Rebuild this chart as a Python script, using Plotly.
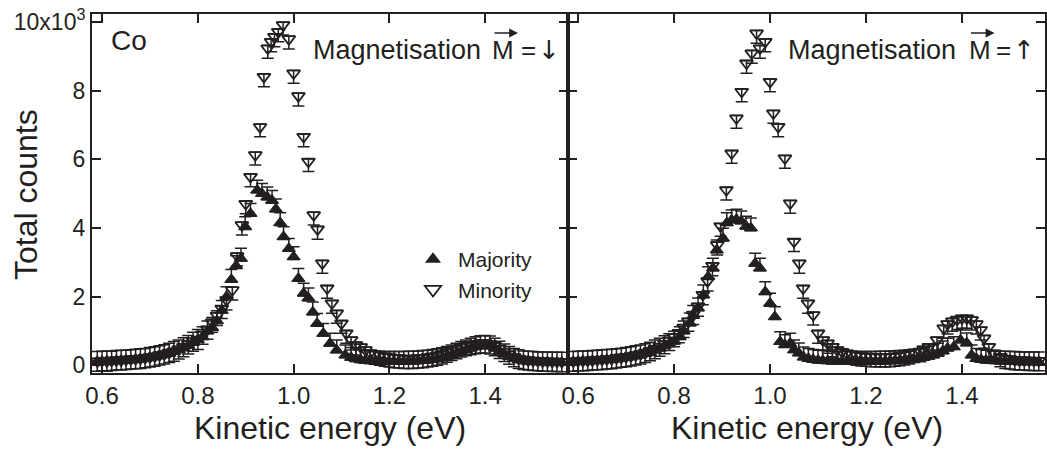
import plotly.graph_objects as go

INK = "#231f20"
FONT = "Liberation Sans, Arial, Helvetica, sans-serif"
W, H = 1047, 450

# ---------------- data ----------------
# Left panel: magnetisation down
L_maj_E = [0.59, 0.60, 0.61, 0.62, 0.63, 0.64, 0.65, 0.66, 0.67, 0.68, 0.69, 0.70, 0.71, 0.72, 0.73,
           0.74, 0.75, 0.76, 0.77, 0.78, 0.79, 0.80, 0.81, 0.82, 0.83, 0.84, 0.85, 0.86, 0.87, 0.88,
           0.89, 0.899, 0.91, 0.924, 0.934, 0.945, 0.955, 0.963, 0.972, 0.979, 0.99, 1.00, 1.01, 1.021,
           1.031, 1.04, 1.049, 1.062, 1.076, 1.09, 1.108, 1.12, 1.13, 1.14, 1.15, 1.16, 1.17, 1.18,
           1.19, 1.20, 1.21, 1.22, 1.23, 1.24, 1.25, 1.26, 1.27, 1.28, 1.29, 1.30, 1.31, 1.32, 1.33,
           1.34, 1.35, 1.36, 1.37, 1.38, 1.39, 1.40, 1.41, 1.42, 1.43, 1.44, 1.45, 1.46, 1.47, 1.48,
           1.49, 1.50, 1.51, 1.52, 1.53, 1.54, 1.55, 1.56]
L_maj_C = [110, 120, 130, 120, 140, 150, 150, 160, 180, 190, 200, 230, 250, 280, 310,
           350, 400, 450, 510, 580, 670, 750, 830, 1000, 1100, 1300, 1600, 2000, 2500, 2900,
           3115, 4035, 4420, 5100, 5000, 4900, 4800, 4550, 4150, 3745, 3400, 3160, 2530, 2100,
           1960, 1550, 1220, 930, 640, 445, 300, 230, 190, 160, 140, 130, 120, 120,
           110, 110, 110, 110, 110, 120, 120, 130, 140, 150, 170, 190, 220, 260, 300,
           350, 400, 450, 500, 540, 570, 580, 560, 500, 410, 330, 260, 200, 160, 130,
           120, 110, 100, 100, 100, 90, 90, 90]

L_min_E = [0.59, 0.60, 0.61, 0.62, 0.63, 0.64, 0.65, 0.66, 0.67, 0.68, 0.69, 0.70, 0.71, 0.72, 0.73,
           0.74, 0.75, 0.76, 0.77, 0.78, 0.79, 0.80, 0.81, 0.82, 0.83, 0.84, 0.85, 0.86, 0.872, 0.882,
           0.892, 0.90, 0.91, 0.92, 0.93, 0.938, 0.946, 0.953, 0.96, 0.968, 0.978, 0.99, 1.00, 1.01,
           1.021, 1.031, 1.042, 1.05, 1.06, 1.07, 1.08, 1.09, 1.10, 1.11, 1.12, 1.13, 1.14, 1.15,
           1.16, 1.17, 1.18, 1.19, 1.20, 1.21, 1.22, 1.23, 1.24, 1.25, 1.26, 1.27, 1.28, 1.29, 1.30,
           1.31, 1.32, 1.33, 1.34, 1.35, 1.36, 1.37, 1.38, 1.39, 1.40, 1.41, 1.42, 1.43, 1.44, 1.45,
           1.46, 1.47, 1.48, 1.49, 1.50, 1.51, 1.52, 1.53, 1.54, 1.55, 1.56]
L_min_C = [120, 130, 120, 140, 150, 150, 170, 180, 190, 200, 220, 240, 260, 300, 330,
           370, 410, 470, 540, 620, 700, 750, 900, 1050, 1250, 1450, 1650, 1900, 2190, 3180,
           4084, 4700, 5490, 6120, 6940, 8400, 9228, 9420, 9565, 9710, 9906, 9500, 8500, 7840,
           6655, 5930, 4375, 3960, 2970, 2240, 1805, 1514, 1220, 930, 736, 590, 530, 445,
           360, 320, 290, 260, 240, 220, 210, 200, 200, 200, 210, 220, 240, 260, 290,
           330, 380, 430, 480, 530, 570, 600, 630, 650, 650, 620, 570, 490, 400, 320,
           250, 200, 170, 150, 140, 130, 120, 120, 110, 110, 100]

# Right panel: magnetisation up
R_maj_E = [0.59, 0.60, 0.61, 0.62, 0.63, 0.64, 0.65, 0.66, 0.67, 0.68, 0.69, 0.70, 0.71, 0.72, 0.73,
           0.74, 0.75, 0.76, 0.77, 0.78, 0.79, 0.80, 0.812, 0.82, 0.833, 0.84, 0.85, 0.861, 0.871,
           0.881, 0.889, 0.902, 0.91, 0.92, 0.93, 0.94, 0.95, 0.96, 0.969, 0.979, 0.99, 1.00, 1.01,
           1.021, 1.031, 1.042, 1.05, 1.06, 1.07, 1.08, 1.09, 1.10, 1.11, 1.12, 1.13, 1.14, 1.15,
           1.16, 1.17, 1.18, 1.19, 1.20, 1.21, 1.22, 1.23, 1.24, 1.25, 1.26, 1.27, 1.28, 1.29, 1.30,
           1.31, 1.32, 1.33, 1.34, 1.35, 1.36, 1.37, 1.383, 1.397, 1.41, 1.42, 1.43, 1.44, 1.45,
           1.46, 1.47, 1.48, 1.49, 1.50, 1.51, 1.52, 1.53, 1.54, 1.55, 1.56]
R_maj_C = [110, 120, 130, 130, 140, 150, 160, 170, 180, 190, 210, 230, 250, 280, 300,
           340, 380, 445, 500, 570, 630, 700, 830, 1000, 1230, 1450, 1670, 2050, 2580,
           2830, 3360, 3700, 4150, 4230, 4250, 4200, 4050, 4000, 2970, 2830, 2140, 1805, 1415,
           690, 600, 640, 450, 360, 240, 200, 170, 150, 140, 130, 120, 120, 110,
           110, 110, 110, 110, 110, 110, 110, 120, 120, 130, 130, 140, 150, 160, 180,
           200, 230, 260, 300, 350, 420, 500, 540, 736, 650, 300, 200, 170, 150,
           140, 130, 120, 120, 110, 110, 100, 100, 100, 100, 100]

R_min_E = [0.59, 0.60, 0.61, 0.62, 0.63, 0.64, 0.65, 0.66, 0.67, 0.68, 0.69, 0.70, 0.71, 0.72, 0.73,
           0.74, 0.75, 0.76, 0.77, 0.78, 0.79, 0.80, 0.81, 0.82, 0.83, 0.84, 0.85, 0.86, 0.87, 0.88,
           0.89, 0.897, 0.909, 0.92, 0.93, 0.941, 0.951, 0.962, 0.972, 0.979, 0.99, 1.00, 1.007, 1.017,
           1.031, 1.042, 1.05, 1.061, 1.069, 1.079, 1.09, 1.10, 1.11, 1.12, 1.13, 1.14, 1.15,
           1.16, 1.17, 1.18, 1.19, 1.20, 1.21, 1.22, 1.23, 1.24, 1.25, 1.26, 1.27, 1.28, 1.29, 1.30,
           1.313, 1.32, 1.331, 1.348, 1.362, 1.37, 1.38, 1.39, 1.40, 1.41, 1.42, 1.43, 1.439, 1.446,
           1.456, 1.467, 1.48, 1.49, 1.50, 1.51, 1.52, 1.53, 1.54, 1.55, 1.56]
R_min_C = [120, 130, 130, 140, 150, 160, 170, 180, 190, 210, 230, 250, 270, 300, 330,
           370, 420, 480, 550, 630, 720, 830, 950, 1100, 1280, 1480, 1720, 2050, 2450, 2900,
           3500, 4050, 5100, 6170, 7190, 7965, 8790, 9083, 9665, 9228, 9420, 8255, 7335, 6945,
           6025, 4715, 3600, 2970, 2240, 1805, 1465, 930, 736, 640, 540, 445, 395,
           350, 320, 290, 270, 260, 250, 250, 240, 240, 250, 260, 280, 300, 330, 370,
           395, 470, 540, 736, 1077, 1200, 1280, 1330, 1370, 1370, 1320, 1200, 1030, 785,
           540, 350, 250, 200, 180, 160, 150, 150, 140, 140, 130]

# error bar half-lengths (counts); the short side sits inside the triangle
ERR_LONG = 290
ERR_SHORT = 80

Y_TICKS = [0, 2000, 4000, 6000, 8000, 10000]
Y_LABELS = ["0", "2", "4", "6", "8", "10x10<sup>3</sup>"]
X_TICKS = [0.6, 0.8, 1.0, 1.2, 1.4]
X_LABELS = ["0.6", "0.8", "1.0", "1.2", "1.4"]

# ---------------- figure ----------------
fig = go.Figure()


def add_series(E, C, xa, ya, symbol, lw, up):
    plus, minus = (ERR_LONG, ERR_SHORT) if up else (ERR_SHORT, ERR_LONG)
    fig.add_trace(go.Scatter(
        x=E, y=C, mode="markers", xaxis=xa, yaxis=ya,
        marker=dict(symbol=symbol, size=11.5, color=INK, line=dict(color=INK, width=lw)),
        error_y=dict(type="constant", symmetric=False, value=plus, valueminus=minus,
                     color=INK, thickness=1.5, width=6),
        showlegend=False, hoverinfo="skip"))


add_series(L_maj_E, L_maj_C, "x", "y", "triangle-up", 1, True)
add_series(L_min_E, L_min_C, "x", "y", "triangle-down-open", 1.8, False)
add_series(R_maj_E, R_maj_C, "x2", "y2", "triangle-up", 1, True)
add_series(R_min_E, R_min_C, "x2", "y2", "triangle-down-open", 1.8, False)

# legend entries
fig.add_trace(go.Scatter(x=[None], y=[None], mode="markers", name="Majority",
                         marker=dict(symbol="triangle-up", size=14, color=INK)))
fig.add_trace(go.Scatter(x=[None], y=[None], mode="markers", name="Minority",
                         marker=dict(symbol="triangle-down-open", size=14, color=INK,
                                     line=dict(width=1.8))))

X0, XM, X1 = 92, 568, 1045
YT, YB = 14, 373
XR = [0.579, 1.573]
YR = [-224, 10227]

common_x = dict(range=XR, tickvals=X_TICKS, ticktext=X_LABELS, ticks="inside", ticklen=9,
                tickwidth=1.5, tickcolor=INK, showline=True, linewidth=2, linecolor=INK,
                mirror="ticks", showgrid=False, zeroline=False, automargin=False,
                tickfont=dict(family=FONT, size=24, color=INK))
common_y = dict(range=YR, tickvals=Y_TICKS, ticktext=Y_LABELS, ticks="inside", ticklen=9,
                tickwidth=1.5, tickcolor=INK, showline=True, linewidth=2, linecolor=INK,
                mirror="ticks", showgrid=False, zeroline=False, automargin=False,
                domain=[1 - YB / H, 1 - YT / H],
                tickfont=dict(family=FONT, size=23, color=INK))

fig.update_layout(
    width=W, height=H, margin=dict(l=0, r=0, t=0, b=0),
    paper_bgcolor="white", plot_bgcolor="white",
    font=dict(family=FONT, color=INK),
    xaxis=dict(common_x, domain=[X0 / W, XM / W], anchor="y"),
    xaxis2=dict(common_x, domain=[XM / W, X1 / W], anchor="y2"),
    yaxis=dict(common_y, anchor="x"),
    yaxis2=dict(common_y, anchor="x2", showticklabels=False),
    legend=dict(x=408 / W, y=1 - 239 / H, xanchor="left", yanchor="top",
                font=dict(family=FONT, size=21, color=INK), bgcolor="rgba(0,0,0,0)",
                tracegroupgap=0, itemwidth=40),
)

ann = []
ann.append(dict(text="Co", x=109 / W, y=1 - 40 / H, xref="paper", yref="paper",
                xanchor="left", yanchor="middle", showarrow=False,
                font=dict(family=FONT, size=28, color=INK)))
# "Magnetisation  M = arrow" pieces: (right edge of word, M centre, '=' centre, arrow centre)
for word_r, m_c, eq_c, ar_c, arrow in [(483, 503, 528, 548.5, "\u2193"),
                                       (958, 979.5, 1003, 1023.5, "\u2191")]:
    ann.append(dict(text="Magnetisation", x=word_r / W, y=1 - 50 / H,
                    xref="paper", yref="paper", xanchor="right", yanchor="middle",
                    showarrow=False, font=dict(family=FONT, size=27, color=INK)))
    for txt, xc, fam in [("M", m_c, FONT), ("=", eq_c, FONT), (arrow, ar_c, "DejaVu Sans")]:
        ann.append(dict(text=txt, x=xc / W, y=1 - 50 / H,
                        xref="paper", yref="paper", xanchor="center", yanchor="middle",
                        showarrow=False, font=dict(family=fam, size=26, color=INK)))
    ann.append(dict(text="", x=(m_c + 15) / W, y=1 - 33 / H, xref="paper", yref="paper",
                    ax=-25, ay=0, showarrow=True, arrowhead=2, arrowsize=1.1,
                    arrowwidth=1.6, arrowcolor=INK))
for xc in [(X0 + XM) / 2, (XM + X1) / 2]:
    ann.append(dict(text="Kinetic energy (eV)", x=xc / W, y=1 - 428 / H,
                    xref="paper", yref="paper", xanchor="center", yanchor="middle",
                    showarrow=False, font=dict(family=FONT, size=32, color=INK)))
ann.append(dict(text="Total counts", x=26 / W, y=1 - 195 / H, xref="paper", yref="paper",
                xanchor="center", yanchor="middle", textangle=-90, showarrow=False,
                font=dict(family=FONT, size=32, color=INK)))
fig.update_layout(annotations=ann)

fig.write_html("out.html")
